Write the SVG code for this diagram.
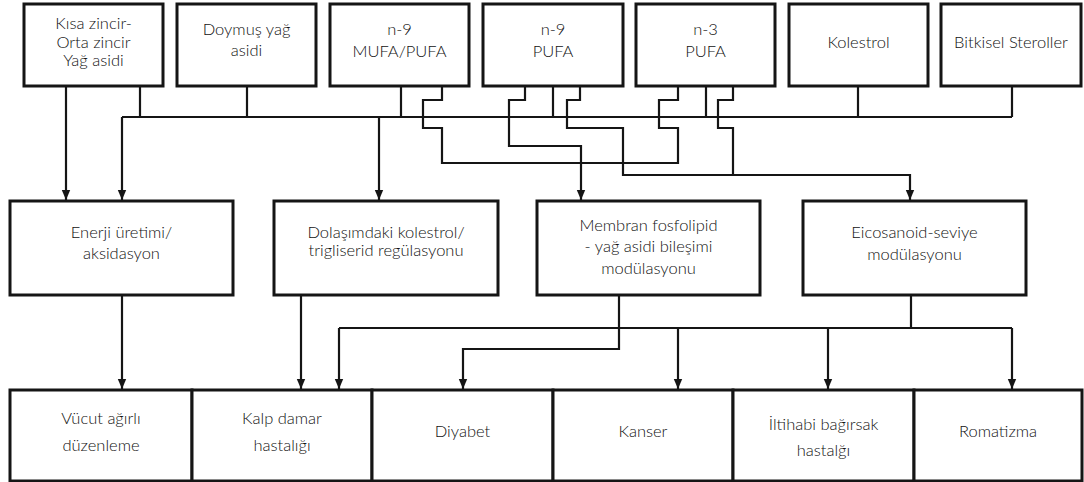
<svg xmlns="http://www.w3.org/2000/svg" width="1084" height="482" viewBox="0 0 1084 482">
  <style>
    .box { fill: #fff; stroke: #151515; stroke-width: 3; }
    .wire { fill: none; stroke: #151515; stroke-width: 2.2; stroke-linejoin: miter; }
    .lbl { font-family: Lato, "Noto Sans", "Liberation Sans", sans-serif; font-size: 16.5px; font-weight: 300; fill: #111; text-anchor: middle; }
  </style>
  <defs>
    <marker id="ah" viewBox="0 0 10 10" refX="10" refY="5" markerWidth="10" markerHeight="10" markerUnits="userSpaceOnUse" orient="auto">
      <path d="M0,0.8 L10,5 L0,9.2 z" fill="#151515"/>
    </marker>
  </defs>
  <rect width="1084" height="482" fill="#fff"/>

  <!-- connectors -->
  <g id="connectors">
    <!-- sources to the shared bus -->
    <path class="wire" d="M140 86 V117 M247 86 V117 M401 86 V117 M553 86 V117 M706 86 V117 M858 86 V117 M1012 86 V117"/>
    <path class="wire" d="M122 117 H1012"/>
    <!-- into energy / circulation boxes -->
    <path class="wire" d="M66 86 V200" marker-end="url(#ah)"/>
    <path class="wire" d="M122 117 V200" marker-end="url(#ah)"/>
    <path class="wire" d="M379 117 V200" marker-end="url(#ah)"/>
    <!-- n-9 MUFA/PUFA and n-3 jog line joining the membrane feed -->
    <path class="wire" d="M442 86 V100 H423 V128 H442 V163 H678 V128 H659 V100 H678 V86"/>
    <!-- n-9 PUFA to membrane -->
    <path class="wire" d="M525 86 V100 H509 V146 H581 V200" marker-end="url(#ah)"/>
    <!-- n-9 PUFA to eicosanoid -->
    <path class="wire" d="M580 86 V100 H567 V128 H623 V175 H910 V200" marker-end="url(#ah)"/>
    <!-- n-3 PUFA to eicosanoid -->
    <path class="wire" d="M733 86 V100 H718 V128 H733 V175"/>
    <!-- lower tier -->
    <path class="wire" d="M122 295 V389" marker-end="url(#ah)"/>
    <path class="wire" d="M301 295 V389" marker-end="url(#ah)"/>
    <path class="wire" d="M619 295 V349 H463 V389" marker-end="url(#ah)"/>
    <path class="wire" d="M911 295 V328 M339 328 H1012"/>
    <path class="wire" d="M339 328 V389" marker-end="url(#ah)"/>
    <path class="wire" d="M678 328 V389" marker-end="url(#ah)"/>
    <path class="wire" d="M828 328 V389" marker-end="url(#ah)"/>
    <path class="wire" d="M1012 328 V389" marker-end="url(#ah)"/>
  </g>

  <!-- top row -->
  <g id="kisa-zincir">
    <rect class="box" x="24" y="4" width="139" height="82"/>
    <text class="lbl" x="93.5" y="29">Kısa zincir-</text>
    <text class="lbl" x="93.5" y="48">Orta zincir</text>
    <text class="lbl" x="93.5" y="66">Yağ asidi</text>
  </g>
  <g id="doymus">
    <rect class="box" x="177" y="4" width="139" height="82"/>
    <text class="lbl" x="246.5" y="35">Doymuş yağ</text>
    <text class="lbl" x="246.5" y="56">asidi</text>
  </g>
  <g id="n9-mufa-pufa">
    <rect class="box" x="330" y="4" width="139" height="82"/>
    <text class="lbl" x="399.5" y="35">n-9</text>
    <text class="lbl" x="399.5" y="57">MUFA/PUFA</text>
  </g>
  <g id="n9-pufa">
    <rect class="box" x="483" y="4" width="140" height="82"/>
    <text class="lbl" x="553" y="35">n-9</text>
    <text class="lbl" x="553" y="57">PUFA</text>
  </g>
  <g id="n3-pufa">
    <rect class="box" x="636" y="4" width="139" height="82"/>
    <text class="lbl" x="705.5" y="35">n-3</text>
    <text class="lbl" x="705.5" y="57">PUFA</text>
  </g>
  <g id="kolestrol">
    <rect class="box" x="789" y="4" width="139" height="82"/>
    <text class="lbl" x="858.5" y="48">Kolestrol</text>
  </g>
  <g id="bitkisel-steroller">
    <rect class="box" x="941" y="4" width="140" height="82"/>
    <text class="lbl" x="1011" y="48">Bitkisel Steroller</text>
  </g>

  <!-- middle row -->
  <g id="enerji">
    <rect class="box" x="10" y="201" width="223" height="94"/>
    <text class="lbl" x="121.5" y="238">Enerji üretimi/</text>
    <text class="lbl" x="121.5" y="259">aksidasyon</text>
  </g>
  <g id="dolasim">
    <rect class="box" x="274" y="201" width="224" height="94"/>
    <text class="lbl" x="386" y="238">Dolaşımdaki kolestrol/</text>
    <text class="lbl" x="386" y="256">trigliserid regülasyonu</text>
  </g>
  <g id="membran">
    <rect class="box" x="537" y="201" width="223" height="94"/>
    <text class="lbl" x="648.5" y="231">Membran fosfolipid</text>
    <text class="lbl" x="648.5" y="252">- yağ asidi bileşimi</text>
    <text class="lbl" x="648.5" y="274">modülasyonu</text>
  </g>
  <g id="eicosanoid">
    <rect class="box" x="803" y="201" width="223" height="94"/>
    <text class="lbl" x="914.5" y="238">Eicosanoid-seviye</text>
    <text class="lbl" x="914.5" y="260">modülasyonu</text>
  </g>

  <!-- bottom row -->
  <g id="vucut">
    <rect class="box" x="10" y="390" width="182" height="91"/>
    <text class="lbl" x="101" y="424">Vücut ağırlı</text>
    <text class="lbl" x="101" y="451">düzenleme</text>
  </g>
  <g id="kalp-damar">
    <rect class="box" x="192" y="390" width="180" height="91"/>
    <text class="lbl" x="282" y="424">Kalp damar</text>
    <text class="lbl" x="282" y="451">hastalığı</text>
  </g>
  <g id="diyabet">
    <rect class="box" x="372" y="390" width="181" height="91"/>
    <text class="lbl" x="462.5" y="437">Diyabet</text>
  </g>
  <g id="kanser">
    <rect class="box" x="553" y="390" width="180" height="91"/>
    <text class="lbl" x="643" y="437">Kanser</text>
  </g>
  <g id="iltihabi">
    <rect class="box" x="733" y="390" width="181" height="91"/>
    <text class="lbl" x="823.5" y="430">İltihabi bağırsak</text>
    <text class="lbl" x="823.5" y="456">hastalğı</text>
  </g>
  <g id="romatizma">
    <rect class="box" x="914" y="390" width="168" height="91"/>
    <text class="lbl" x="998" y="437">Romatizma</text>
  </g>
</svg>
